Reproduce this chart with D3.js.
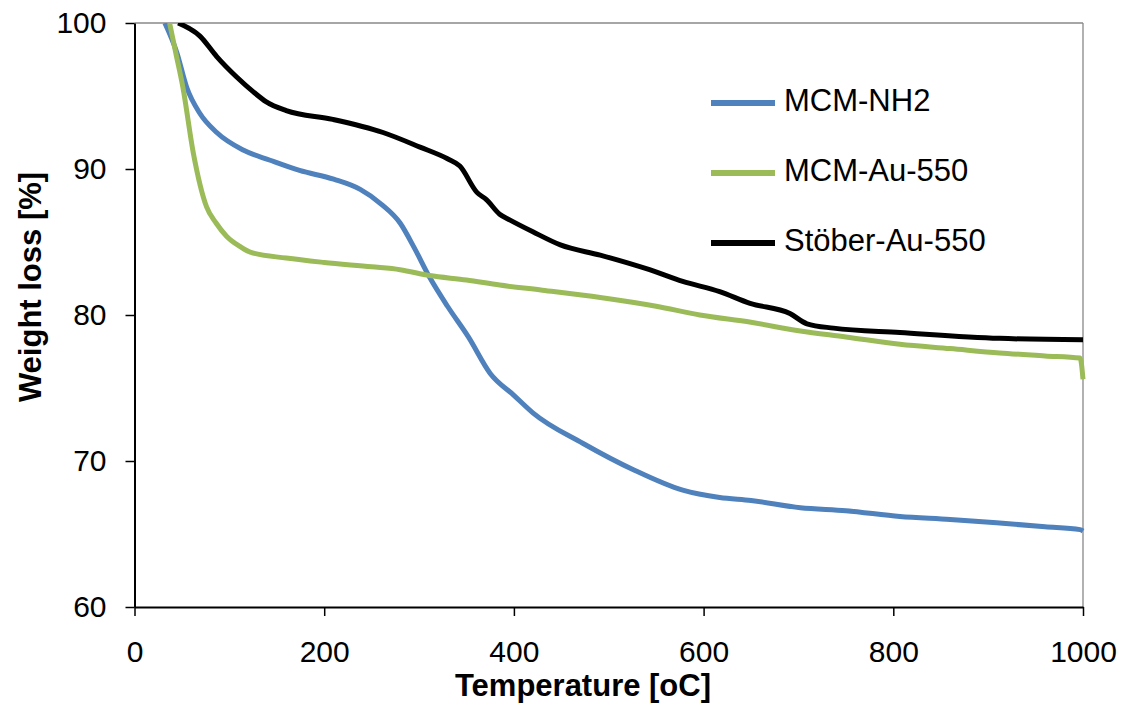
<!DOCTYPE html>
<html>
<head>
<meta charset="utf-8">
<script src="https://cdn.jsdelivr.net/npm/d3@7"></script>
<style>
  body { margin: 0; background: #fff; }
  text { font-family: "Liberation Sans", Arial, sans-serif; }
</style>
</head>
<body>
<div id="chart"></div>
<script>
// values
var nh2Temp   = [32, 44.5, 55, 69, 86.7, 114.5, 143, 174, 210, 238, 260, 280, 295, 311, 330, 352, 375, 400, 420, 473, 526, 578, 617, 650, 702, 750, 807, 860, 912, 960, 997, 1000];
var nh2Weight = [100, 98.0, 95.6, 93.8, 92.5, 91.3, 90.6, 89.9, 89.3, 88.6, 87.6, 86.3, 84.6, 82.6, 80.6, 78.5, 76.0, 74.5, 73.3, 71.2, 69.4, 68.0, 67.5, 67.3, 66.8, 66.6, 66.2, 66.0, 65.75, 65.5, 65.3, 65.2];

var auTemp   = [37, 44, 51, 62, 76, 86, 97, 111, 122, 160, 200, 250, 280, 311, 350, 385, 430, 491, 550, 596, 650, 702, 750, 807, 860, 912, 960, 997, 1000];
var auWeight = [100, 97.8, 95.6, 91.1, 87.4, 86.3, 85.4, 84.7, 84.3, 83.9, 83.6, 83.3, 83.1, 82.7, 82.4, 82.05, 81.7, 81.2, 80.6, 80.0, 79.5, 78.9, 78.5, 78.0, 77.7, 77.4, 77.2, 77.05, 75.6];

var stoberTemp   = [46, 69, 86.7, 107.7, 125, 139, 160, 209, 262, 301, 330, 343, 361, 371, 385, 396, 420, 449, 491, 543, 578, 617, 649, 691, 709, 737, 807, 912, 1000];
var stoberWeight = [100, 99.1, 97.7, 96.3, 95.3, 94.6, 94.0, 93.4, 92.5, 91.5, 90.7, 90.2, 88.4, 87.9, 86.9, 86.5, 85.7, 84.8, 84.1, 83.1, 82.3, 81.6, 80.8, 80.1, 79.4, 79.1, 78.8, 78.4, 78.3];

var seriesNames  = ['MCM-NH2', 'MCM-Au-550', 'Stöber-Au-550'];
var seriesColors = ['#4F81BD', '#9BBB59', '#000000'];
var xTicks = [0, 200, 400, 600, 800, 1000];
var yTicks = [60, 70, 80, 90, 100];

var W = 1123, H = 715;
var margin = {left: 134.5, top: 23};
var plotW = 1083 - margin.left, plotH = 607 - margin.top;

var svg = d3.select('#chart').append('svg')
    .attr('width', W).attr('height', H);

var x = d3.scaleLinear().domain([0, 1000]).range([0, plotW]);
var y = d3.scaleLinear().domain([60, 100]).range([plotH, 0]);

var g = svg.append('g')
    .attr('transform', 'translate(' + margin.left + ',' + margin.top + ')');

g.append('clipPath').attr('id', 'clip')
  .append('rect').attr('x', 0).attr('y', 0).attr('width', plotW + 3).attr('height', plotH);

// top and right frame
g.append('line').attr('x1', 0).attr('x2', plotW).attr('y1', 0).attr('y2', 0)
    .attr('stroke', '#888').attr('stroke-width', 1.3);
g.append('line').attr('x1', plotW).attr('x2', plotW).attr('y1', 0).attr('y2', plotH)
    .attr('stroke', '#888').attr('stroke-width', 1.3);

// lines
var series = [
  d3.zip(nh2Temp, nh2Weight),
  d3.zip(auTemp, auWeight),
  d3.zip(stoberTemp, stoberWeight)
];
var line = d3.line()
    .x(function(d) { return x(d[0]); })
    .y(function(d) { return y(d[1]); })
    .curve(d3.curveMonotoneX);

g.append('g').attr('clip-path', 'url(#clip)')
  .selectAll('path').data(series).enter().append('path')
    .attr('d', line)
    .attr('fill', 'none')
    .attr('stroke', function(d, i) { return seriesColors[i]; })
    .attr('stroke-width', 5)
    .attr('stroke-linejoin', 'round');

// axes
var xAxis = d3.axisBottom(x).tickValues(xTicks).tickFormat(d3.format('d'))
    .tickSize(9).tickSizeOuter(0).tickPadding(25);
var yAxis = d3.axisLeft(y).tickValues(yTicks).tickFormat(d3.format('d'))
    .tickSize(9).tickSizeOuter(0).tickPadding(19);

var gx = g.append('g').attr('transform', 'translate(0,' + plotH + ')').call(xAxis);
var gy = g.append('g').call(yAxis);
[gx, gy].forEach(function(a) {
  a.select('.domain').attr('stroke', '#000').attr('stroke-width', 2);
  a.selectAll('.tick line').attr('stroke', '#000').attr('stroke-width', 1.5);
  a.selectAll('.tick text').attr('fill', '#000')
      .style('font-size', '30px')
      .style('font-family', '"Liberation Sans", Arial, sans-serif');
});

// axis titles
svg.append('text')
    .attr('x', 583).attr('y', 696)
    .attr('text-anchor', 'middle')
    .style('font-size', '31px').style('font-weight', 'bold')
    .text('Temperature [oC]');
svg.append('text')
    .attr('transform', 'translate(41,287) rotate(-90)')
    .attr('text-anchor', 'middle')
    .style('font-size', '31px').style('font-weight', 'bold')
    .text('Weight loss [%]');

// legend
var legend = svg.append('g').attr('transform', 'translate(711,103)');
var items = legend.selectAll('g').data(seriesNames).enter().append('g')
    .attr('transform', function(d, i) { return 'translate(0,' + (i * 70) + ')'; });
items.append('line')
    .attr('x1', 0).attr('x2', 64).attr('y1', 0).attr('y2', 0)
    .attr('stroke', function(d, i) { return seriesColors[i]; })
    .attr('stroke-width', 6);
items.append('text')
    .attr('x', 73).attr('y', 8)
    .style('font-size', '31px')
    .text(function(d) { return d; });
</script>
</body>
</html>
